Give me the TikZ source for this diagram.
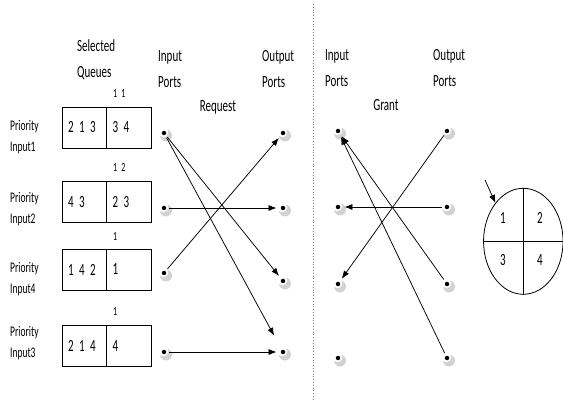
\documentclass[tikz,border=0pt]{standalone}
\usepackage{fontspec}
\setmainfont{Carlito}
\usepackage{graphicx}
\usetikzlibrary{arrows.meta,shapes.geometric}
\newcommand\tall[1]{\scalebox{1}[1.55]{#1}}
\begin{document}
\begin{tikzpicture}[x=1pt, y=-1pt,
  heading/.style={font=\fontsize{11}{26}\selectfont, align=left, anchor=west, inner sep=0pt},
  prio/.style={font=\fontsize{9.5}{21}\selectfont, align=left, anchor=west, inner sep=0pt},
  cellbox/.style={draw, line width=0.9pt, minimum width=44.5pt, minimum height=41pt, text width=32.5pt, inner xsep=6pt, inner ysep=0pt, align=left, font=\fontsize{11}{13}\selectfont},
  topnum/.style={font=\fontsize{8}{10}\selectfont, anchor=west, inner sep=0pt},
  port/.style={circle, fill=black, inner sep=0pt, minimum size=4.5pt},
  req/.style={-{Latex[length=8pt,width=6pt]}, line width=0.75pt, shorten >=4pt, shorten <=3pt}]
\useasboundingbox (0,0) rectangle (563,401);
\draw[dotted, gray, line width=0.8pt] (313,4) -- (313,401);
\node[heading] (selq) at (77,60) {\tall{Selected}\\\tall{Queues}};
\node[heading] (inhead) at (158,69) {\tall{Input}\\\tall{Ports}};
\node[heading] (outhead) at (262,69) {\tall{Output}\\\tall{Ports}};
\node[font=\fontsize{11}{13}\selectfont] (request) at (218,107) {\tall{Request}};
\node[heading] (grinhead) at (325,68) {\tall{Input}\\\tall{Ports}};
\node[heading] (grouthead) at (433,68) {\tall{Output}\\\tall{Ports}};
\node[font=\fontsize{11}{13}\selectfont] (grant) at (386,105) {\tall{Grant}};
\foreach \n/\y/\py/\ty/\who/\lft/\rgt/\tp in {
  1/127.5/137.5/94/Input1/{2\enspace1\enspace3}/{3\enspace4}/{1\enspace1},
  2/202/209.5/167/Input2/{4\enspace3}/{2\enspace3}/{1\enspace2},
  3/269.5/279.5/237/Input4/{1\enspace4\enspace2}/{1}/{1},
  4/346/343/312/Input3/{2\enspace1\enspace4}/{4}/{1}} {
  \node[cellbox] (ql\n) at (84.25,\y) {\tall{\lft}};
  \node[cellbox] (qr\n) at (128.75,\y) {\tall{\rgt}};
  \node[topnum] (qt\n) at (113,\ty) {\tall{\tp}};
  \node[prio] (pr\n) at (10,\py) {\tall{Priority}\\\tall{\who}};
}
\foreach \n/\ya/\yb in {1/133/133,2/208/208,3/273/281,4/352/352} {
  \fill[gray!35] (166,\ya+2.5) circle (6);
  \fill[white] (163.5,\ya-0.5) circle (4.8);
  \node[port] (reqin\n) at (164,\ya) {};
  \fill[gray!35] (285,\yb+2.5) circle (6);
  \fill[white] (282.5,\yb-0.5) circle (4.8);
  \node[port] (reqout\n) at (283,\yb) {};
}
\foreach \n/\y in {1/131,2/207,3/284,4/358} {
  \fill[gray!35] (340,\y+2.5) circle (6);
  \fill[white] (337.5,\y-0.5) circle (4.8);
  \node[port] (grin\n) at (338,\y) {};
  \fill[gray!35] (449,\y+2.5) circle (6);
  \fill[white] (446.5,\y-0.5) circle (4.8);
  \node[port] (grout\n) at (447,\y) {};
}
\draw[req] (reqin1) -- (reqout3);
\draw[req, shorten >=16pt] (reqin1) -- (reqout4);
\draw[req] (reqin2) -- (reqout2);
\draw[req] (reqin3) -- (reqout1);
\draw[req] (reqin4) -- (reqout4);
\draw[req] (grout1) -- (grin3);
\draw[req] (grout2) -- (grin2);
\draw[req] (grout3) -- (grin1);
\draw[req] (grout4) -- (grin1);
\node[draw, ellipse, line width=0.8pt, minimum width=79.5pt, minimum height=106pt, inner sep=0pt] (quad) at (523.3,241.3) {};
\draw[line width=0.8pt] (quad.north) -- (quad.south) (quad.west) -- (quad.east);
\foreach \n/\x/\y in {1/503/218,2/540/218,3/503/260,4/540/260}
  \node[font=\fontsize{11}{13}\selectfont] (sec\n) at (\x,\y) {\tall{\n}};
\coordinate (pointer) at (485,180);
\draw[req, shorten >=0pt, shorten <=0pt] (pointer) -- (quad.126);
\end{tikzpicture}
\end{document}
